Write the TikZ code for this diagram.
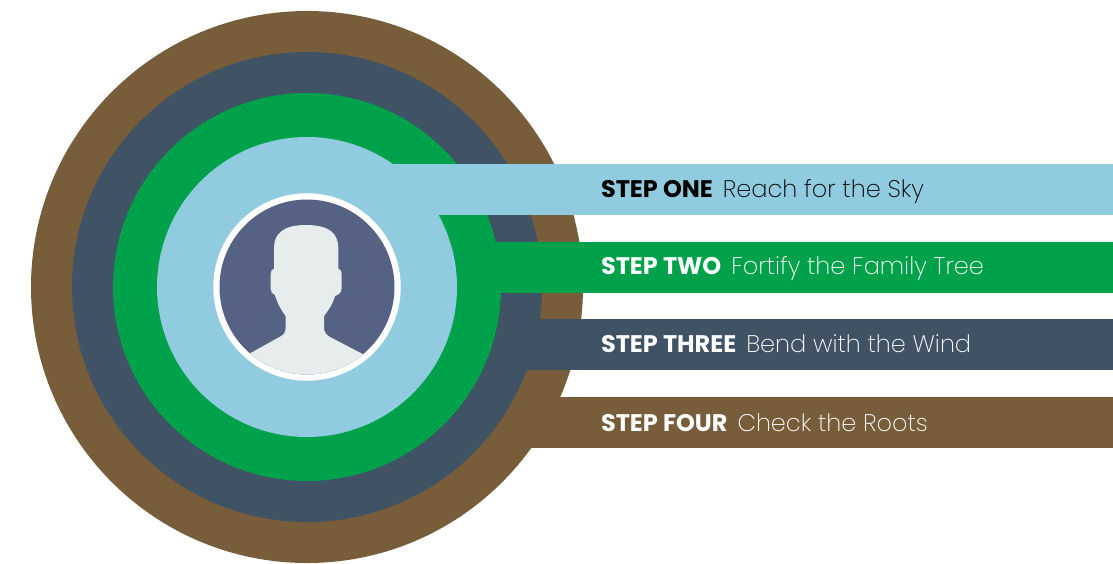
\documentclass[tikz,border=0pt]{standalone}
\usepackage{fontspec}
\newfontfamily\pbold{Poppins Bold}
\newfontfamily\plight{Poppins ExtraLight}
\definecolor{cbrown}{HTML}{785D3A}
\definecolor{cslate}{HTML}{405365}
\definecolor{cgreen}{HTML}{00A14B}
\definecolor{csky}{HTML}{91CBDF}
\definecolor{cface}{HTML}{556283}
\definecolor{cskin}{HTML}{E7ECED}
\tikzset{
  ringdisc/.style={circle,inner sep=0pt,outer sep=0pt,minimum size=#1},
  barbox/.style={rectangle,anchor=north west,inner sep=0pt,outer sep=0pt,minimum height=51pt,minimum width=#1},
  steplabel/.style={anchor=base west,inner sep=0pt,outer sep=0pt,font=\fontsize{24}{28}\selectfont},
}
\newcommand{\steptext}[2]{{\pbold #1}\hspace{10pt}{\plight #2}}
\begin{document}
\begin{tikzpicture}[x=1pt,y=-1pt]
\useasboundingbox (0,0) rectangle (1113,563);
\fill[white] (0,0) rectangle (1113,563);
\node[ringdisc=552pt,fill=cbrown] (c4) at (307,287) {};
\node[barbox=593pt,fill=cbrown] (b4) at (520,397) {};
\node[ringdisc=470pt,fill=cslate] (c3) at (307,287) {};
\node[barbox=593pt,fill=cslate] (b3) at (520,319) {};
\node[ringdisc=388pt,fill=cgreen] (c2) at (307,287) {};
\node[barbox=633pt,fill=cgreen] (b2) at (480,242) {};
\node[ringdisc=300pt,fill=csky] (c1) at (307,287) {};
\node[barbox=720pt,fill=csky] (b1) at (393,164) {};
\node[ringdisc=187.5pt,fill=white] (ring) at (307,287) {};
\node[ringdisc=175pt,fill=cface] (face) at (307,287) {};
\begin{scope}
\clip (307,287) circle[radius=87.5];
\begin{scope}[shift={(200,180)},x=0.33333pt,y=-0.33333pt]
\fill[cskin] (222,205) .. controls (222,160) and (250,135) .. (318,135)
  .. controls (388,135) and (415,160) .. (415,205)
  -- (415,266) .. controls (422,268) and (425,274) .. (425,282)
  -- (425,325) .. controls (425,338) and (415,345) .. (405,348)
  .. controls (398,372) and (385,392) .. (372,408)
  -- (372,442) .. controls (372,458) and (380,466) .. (392,472)
  -- (488,522) -- (560,640) -- (80,640) -- (150,520)
  -- (240,470) .. controls (252,464) and (257,456) .. (257,442)
  -- (257,408) .. controls (245,392) and (232,372) .. (225,345)
  .. controls (216,342) and (212,335) .. (212,325)
  -- (212,282) .. controls (212,274) and (215,268) .. (222,266) -- cycle;
\end{scope}
\end{scope}
\node[steplabel,text=black] (t1) at (601,197) {\steptext{STEP ONE}{Reach for the Sky}};
\node[steplabel,text=white] (t2) at (601,274) {\steptext{STEP TWO}{Fortify the Family Tree}};
\node[steplabel,text=white] (t3) at (601,352) {\steptext{STEP THREE}{Bend with the Wind}};
\node[steplabel,text=white] (t4) at (601,431) {\steptext{STEP FOUR}{Check the Roots}};
\end{tikzpicture}
\end{document}
